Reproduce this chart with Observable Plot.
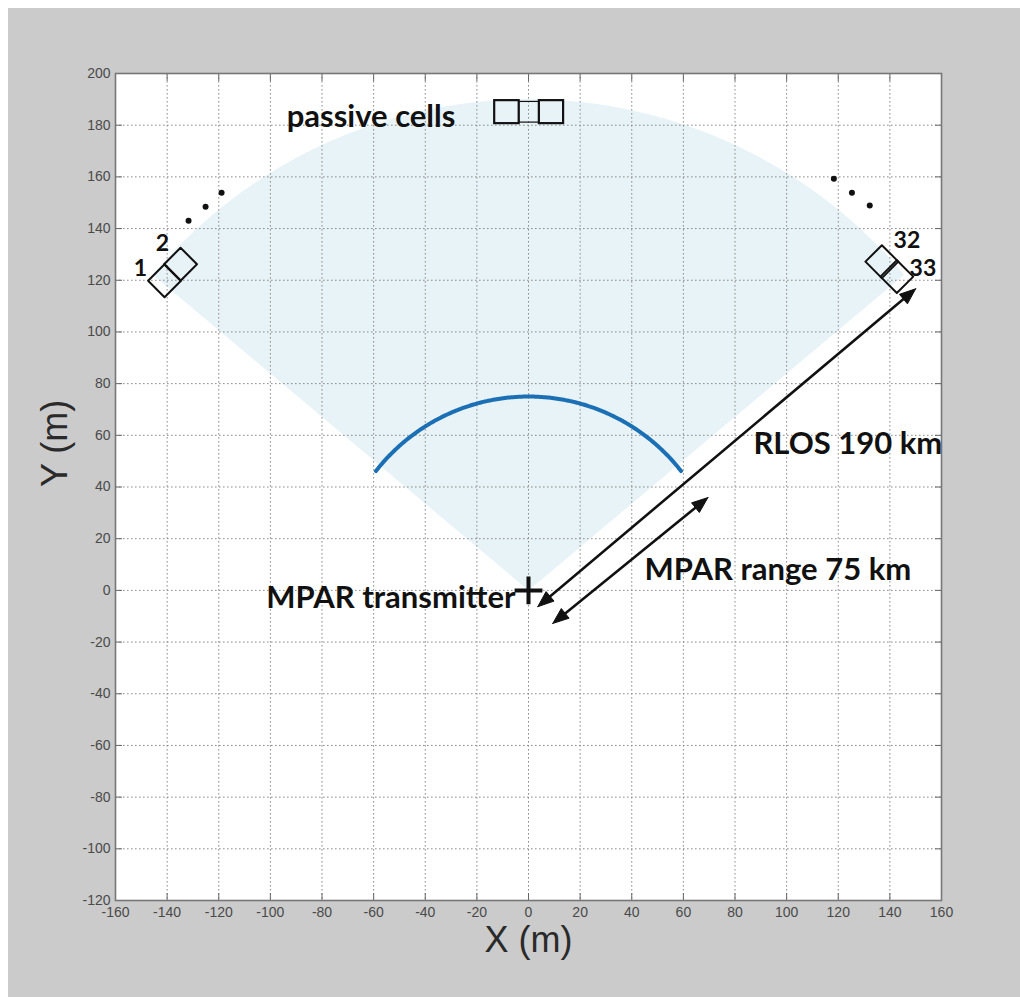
<!DOCTYPE html>
<html><head><meta charset="utf-8">
<script src="https://cdn.jsdelivr.net/npm/d3@7"></script>
<script src="https://cdn.jsdelivr.net/npm/@observablehq/plot@0.6"></script>
<style>
html,body{margin:0;padding:0;background:#fff;}
#wrap{position:absolute;left:8px;top:8px;width:1012px;height:989px;background:#cbcbcb;}
</style></head><body><div id="wrap"></div>
<script>
// ---- data ----
const xTicks = [-160,-140,-120,-100,-80,-60,-40,-20,0,20,40,60,80,100,120,140,160];
const yTicks = [-120,-100,-80,-60,-40,-20,0,20,40,60,80,100,120,140,160,180,200];
const coverage = {radius: 190, startDeg: 40, endDeg: 140};
const mparArc = {radius: 75, startDeg: 38, endDeg: 142};
const tiltedCells = [
  {id: "1", x: -141, y: 119.8, rot: 45},
  {id: "2", x: -134.8, y: 126.2, rot: 45},
  {id: "32", x: 136.9, y: 127.2, rot: -45},
  {id: "33", x: 142.7, y: 121.4, rot: -45}
];
const cellSide = 9;
const topCells = [
  {x1: -13.1, x2: -3.6, y1: 180.6, y2: 189.5, w: 2.2},
  {x1: -3.6, x2: 4.2, y1: 181.0, y2: 189.0, w: 1.2},
  {x1: 4.2, x2: 13.6, y1: 180.6, y2: 189.5, w: 2.2}
];
const ellipsisDots = [
  {x: -131.7, y: 143}, {x: -125.1, y: 148.4}, {x: -118.9, y: 153.9},
  {x: 118.3, y: 159.3}, {x: 125.3, y: 153.9}, {x: 132.2, y: 148.9}
];
const arrows = [
  {name: "RLOS", x1: 3.6, y1: -6.3, x2: 150, y2: 116.7},
  {name: "MPAR", x1: 9.4, y1: -12.8, x2: 69.5, y2: 35.9}
];
const headLen = 6.2, headHalfWidth = 2.4;
const centeredLabels = [
  {text: "passive cells", x: -61, y: 183},
  {text: "RLOS 190 km", x: 123.7, y: 56.8},
  {text: "MPAR range 75 km", x: 96.6, y: 7.7}
];
const endLabels = [
  {text: "MPAR transmitter", x: -5, y: -2.8}
];
const cellLabels = [
  {text: "1", x: -150.3, y: 124.5},
  {text: "2", x: -141.8, y: 134.2},
  {text: "32", x: 146.6, y: 135.3},
  {text: "33", x: 152.8, y: 124.5}
];
const transmitter = [{x: 0, y: 0}];

// ---- geometry built from the values above ----
const rad = d => d * Math.PI / 180;
function arcPoints(a, withOrigin) {
  const pts = [];
  if (withOrigin) pts.push({x: 0, y: 0});
  for (let d = a.startDeg; d <= a.endDeg + 1e-9; d += 0.5)
    pts.push({x: a.radius * Math.cos(rad(d)), y: a.radius * Math.sin(rad(d))});
  if (withOrigin) pts.push({x: 0, y: 0});
  return pts;
}
const sector = arcPoints(coverage, true);
const arc = arcPoints(mparArc, false);
const cellPolys = [];
for (const c of tiltedCells) {
  const h = cellSide / 2, t = rad(c.rot);
  const corners = [[-h,-h],[h,-h],[h,h],[-h,h],[-h,-h]];
  for (const [u, v] of corners)
    cellPolys.push({id: c.id, x: c.x + u * Math.cos(t) - v * Math.sin(t), y: c.y + u * Math.sin(t) + v * Math.cos(t)});
}
const shafts = [], heads = [];
arrows.forEach((a, i) => {
  const dx = a.x2 - a.x1, dy = a.y2 - a.y1, L = Math.hypot(dx, dy);
  const ux = dx / L, uy = dy / L, px = -uy, py = ux;
  const k = headLen * 0.8;
  shafts.push({x1: a.x1 + ux * k, y1: a.y1 + uy * k, x2: a.x2 - ux * k, y2: a.y2 - uy * k});
  const ends = [[a.x2, a.y2, 1], [a.x1, a.y1, -1]];
  ends.forEach(([tx, ty, s], j) => {
    const bx = tx - s * ux * headLen, by = ty - s * uy * headLen;
    const id = i + "-" + j;
    heads.push({id, x: tx, y: ty},
      {id, x: bx + px * headHalfWidth, y: by + py * headHalfWidth},
      {id, x: bx - px * headHalfWidth, y: by - py * headHalfWidth},
      {id, x: tx, y: ty});
  });
});

const bold = "Lato, 'Open Sans', sans-serif";
const fmt = d => String(d);
const chart = Plot.plot({
  width: 1012, height: 989,
  marginLeft: 107, marginRight: 79, marginTop: 65, marginBottom: 97,
  style: {background: "transparent", fontFamily: "'Liberation Sans', Arial, sans-serif"},
  x: {domain: [-160, 160]},
  y: {domain: [-120, 200]},
  marks: [
    Plot.frame({fill: "white", stroke: null}),
    Plot.line(sector, {x: "x", y: "y", fill: "#e7f3f7", stroke: null, curve: "linear"}),
    Plot.gridX(xTicks, {stroke: "#8c8c8c", strokeOpacity: 1, strokeDasharray: "1.6,2.4", strokeWidth: 1}),
    Plot.gridY(yTicks, {stroke: "#8c8c8c", strokeOpacity: 1, strokeDasharray: "1.6,2.4", strokeWidth: 1}),
    Plot.axisX(xTicks, {anchor: "bottom", tickSize: -7, tickPadding: 14, tickFormat: fmt, stroke: "#666", fill: "#4a4a4a", fontSize: 14, label: null}),
    Plot.axisX(xTicks, {anchor: "top", tickSize: -7, tickFormat: () => "", stroke: "#666", label: null}),
    Plot.axisY(yTicks, {anchor: "left", tickSize: -7, tickPadding: 12, tickFormat: fmt, stroke: "#666", fill: "#4a4a4a", fontSize: 14, label: null}),
    Plot.axisY(yTicks, {anchor: "right", tickSize: -7, tickFormat: () => "", stroke: "#666", label: null}),
    Plot.frame({stroke: "#777", strokeWidth: 1.6}),
    Plot.line(arc, {x: "x", y: "y", stroke: "#1a6fb5", strokeWidth: 4}),
    Plot.rect(topCells, {x1: "x1", x2: "x2", y1: "y1", y2: "y2", fill: null, stroke: "#111", strokeWidth: "w"}),
    Plot.line(cellPolys, {x: "x", y: "y", z: "id", stroke: "#111", strokeWidth: 2}),
    Plot.dot(ellipsisDots, {x: "x", y: "y", r: 3, fill: "#111", stroke: null}),
    Plot.link(shafts, {x1: "x1", y1: "y1", x2: "x2", y2: "y2", stroke: "#111", strokeWidth: 2.6}),
    Plot.line(heads, {x: "x", y: "y", z: "id", fill: "#111", stroke: "#111", strokeWidth: 1, strokeLinejoin: "miter"}),
    Plot.dot(transmitter, {x: "x", y: "y", symbol: "plus", r: 9, stroke: "#111", strokeWidth: 4}),
    Plot.text(centeredLabels, {x: "x", y: "y", text: "text", textAnchor: "middle", fontFamily: bold, fontWeight: "bold", fontSize: 31, fill: "#111"}),
    Plot.text(endLabels, {x: "x", y: "y", text: "text", textAnchor: "end", fontFamily: bold, fontWeight: "bold", fontSize: 31, fill: "#111"}),
    Plot.text(cellLabels, {x: "x", y: "y", text: "text", fontFamily: bold, fontWeight: "bold", fontSize: 23, fill: "#111"}),
    Plot.text(["X (m)"], {frameAnchor: "bottom", dy: 40, lineAnchor: "middle", fontSize: 36, fill: "#2a2a2a"}),
    Plot.text(["Y (m)"], {frameAnchor: "left", dx: -60, rotate: -90, lineAnchor: "middle", fontSize: 36, fill: "#2a2a2a"})
  ]
});
document.getElementById("wrap").appendChild(chart);
</script></body></html>
